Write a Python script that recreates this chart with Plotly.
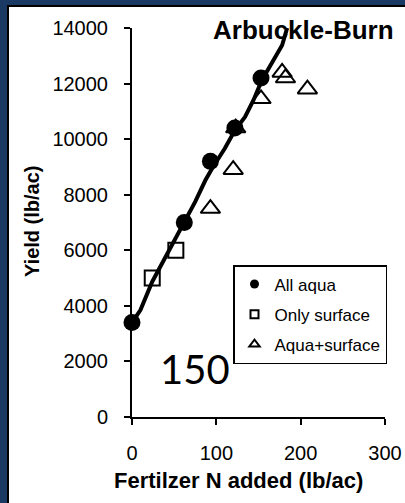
import plotly.graph_objects as go

# valeurs
aqua_x = [0, 62, 93, 122, 153]
aqua_y = [3400, 7000, 9200, 10400, 12200]

surface_x = [24, 52]
surface_y = [5000, 6000]

mix_x = [93, 120, 123, 153, 178, 182, 208]
mix_y = [7500, 8900, 10400, 11450, 12400, 12200, 11800]

# courbe ajustée (noire)
fit_x = [0, 10, 24, 39, 62, 75, 87, 96, 110, 122, 134, 144, 154, 166, 178, 184]
fit_y = [3400, 3850, 4870, 5710, 6970, 7750, 8520, 9000, 9660, 10320, 10800, 11400, 12120, 12720, 13380, 14000]

x_ticks = [0, 100, 200, 300]
y_ticks = [0, 2000, 4000, 6000, 8000, 10000, 12000, 14000]

FONT = "Liberation Sans, Arial, sans-serif"
NAVY = "#1a3a63"

# zone du graphe en pixels (fenêtre 405x503)
L, R, T, B = 132, 385, 28, 417
W, H = R - L, B - T


def px_x(p):
    return (p - L) / W


def px_y(p):
    return (B - p) / H


fig = go.Figure()

fig.add_trace(go.Scatter(x=fit_x, y=fit_y, mode="lines",
                         line=dict(color="black", width=4),
                         showlegend=False, hoverinfo="skip"))

fig.add_trace(go.Scatter(x=mix_x, y=mix_y, mode="markers", cliponaxis=False,
                         marker=dict(symbol="triangle-up-open", size=17, color="black",
                                     line=dict(width=2, color="black")),
                         showlegend=False))
fig.add_trace(go.Scatter(x=surface_x, y=surface_y, mode="markers", cliponaxis=False,
                         marker=dict(symbol="square-open", size=15, color="black",
                                     line=dict(width=2, color="black")),
                         showlegend=False))
fig.add_trace(go.Scatter(x=aqua_x, y=aqua_y, mode="markers", cliponaxis=False,
                         marker=dict(symbol="circle", size=17, color="black"),
                         showlegend=False))

# entrées de légende (petits symboles)
fig.add_trace(go.Scatter(x=[None], y=[None], mode="markers", name="All aqua",
                         legendgroup="a",
                         marker=dict(symbol="circle", size=9, color="black")))
fig.add_trace(go.Scatter(x=[None], y=[None], mode="markers", name="Only surface",
                         legendgroup="b",
                         marker=dict(symbol="square-open", size=8, color="black",
                                     line=dict(width=2, color="black"))))
fig.add_trace(go.Scatter(x=[None], y=[None], mode="markers", name="Aqua+surface",
                         legendgroup="c",
                         marker=dict(symbol="triangle-up-open", size=9, color="black",
                                     line=dict(width=2, color="black"))))

axis_common = dict(showline=True, linecolor="black", linewidth=2,
                   ticks="outside", ticklen=6, tickwidth=2, tickcolor="black",
                   showgrid=False, zeroline=False, tickformat="d",
                   tickfont=dict(family=FONT, size=20, color="black"))

fig.update_xaxes(range=[0, 300], tickvals=x_ticks, ticklabelstandoff=11, **axis_common)
fig.update_yaxes(range=[0, 14000], tickvals=y_ticks, ticklabelstandoff=12, **axis_common)

fig.update_layout(
    width=405, height=503,
    margin=dict(l=L, r=405 - R, t=T, b=503 - B, autoexpand=False),
    paper_bgcolor="white", plot_bgcolor="white",
    font=dict(family=FONT, color="black"),
    legend=dict(x=px_x(233), y=px_y(265), xanchor="left", yanchor="top",
                bordercolor="black", borderwidth=1.5, bgcolor="white",
                font=dict(family=FONT, size=17, color="black"),
                tracegroupgap=5, itemclick=False),
    shapes=[
        dict(type="rect", xref="paper", yref="paper", layer="above",
             x0=px_x(0), x1=px_x(7), y0=px_y(503), y1=px_y(0),
             fillcolor=NAVY, line=dict(width=0)),
        dict(type="rect", xref="paper", yref="paper", layer="above",
             x0=px_x(0), x1=px_x(405), y0=px_y(5), y1=px_y(0),
             fillcolor=NAVY, line=dict(width=0)),
        dict(type="rect", xref="paper", yref="paper", layer="above",
             x0=px_x(7), x1=px_x(9), y0=px_y(503), y1=px_y(5),
             fillcolor="black", line=dict(width=0)),
        dict(type="rect", xref="paper", yref="paper", layer="above",
             x0=px_x(7), x1=px_x(405), y0=px_y(7), y1=px_y(5),
             fillcolor="black", line=dict(width=0)),
    ],
    annotations=[
        dict(text="<b>Arbuckle-Burn</b>", xref="paper", yref="paper",
             x=px_x(303), y=px_y(30), xanchor="center", yanchor="middle",
             showarrow=False, font=dict(family=FONT, size=26, color="black")),
        dict(text="<b>Yield (lb/ac)</b>", xref="paper", yref="paper",
             x=px_x(32), y=px_y(221), xanchor="center", yanchor="middle",
             textangle=-90, showarrow=False,
             font=dict(family=FONT, size=20, color="black")),
        dict(text="<b>Fertilzer N added (lb/ac)</b>", xref="paper", yref="paper",
             x=px_x(238), y=px_y(480), xanchor="center", yanchor="middle",
             showarrow=False, font=dict(family=FONT, size=22, color="black")),
        dict(text="150", xref="paper", yref="paper",
             x=px_x(195), y=px_y(369), xanchor="center", yanchor="middle",
             showarrow=False, font=dict(family="Lato, sans-serif", size=40, color="black")),
    ],
)

fig.write_html("out.html", config={"displayModeBar": False},
               post_script="document.body.style.margin='0';")
